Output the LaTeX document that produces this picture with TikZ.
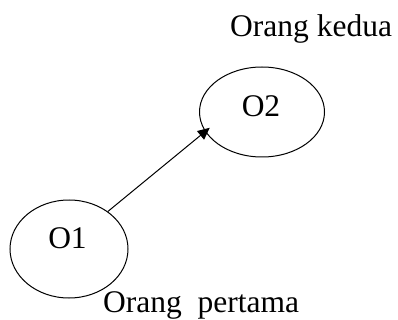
\documentclass[tikz,border=0pt]{standalone}
\usepackage{fontspec}
\setmainfont{Liberation Serif}
\usetikzlibrary{shapes.geometric,arrows.meta}
\begin{document}
\begin{tikzpicture}[x=1pt,y=-1pt,
  oval/.style={draw,ellipse,line width=1pt,inner sep=0pt},
  txt/.style={font=\fontsize{31.5}{38}\selectfont,inner sep=0pt},
  conn/.style={line width=1pt,-{Triangle[length=12pt,width=11pt]}}]
\useasboundingbox (0,0) rectangle (398,320);
\node[oval,minimum width=125pt,minimum height=90pt] (o2) at (262,112) {};
\node[oval,minimum width=118pt,minimum height=98pt] (o1) at (69,249) {};
\node[txt] (t2) at (261,106.5) {O2};
\node[txt] (t1) at (67.5,238) {O1};
\node[txt,anchor=base west] (k) at (230,37) {Orang kedua};
\node[txt,anchor=base west] (p) at (103,312) {Orang\ \ pertama};
\draw[conn,shorten >=-6pt] (o1.44) -- (o2.199);
\end{tikzpicture}
\end{document}
